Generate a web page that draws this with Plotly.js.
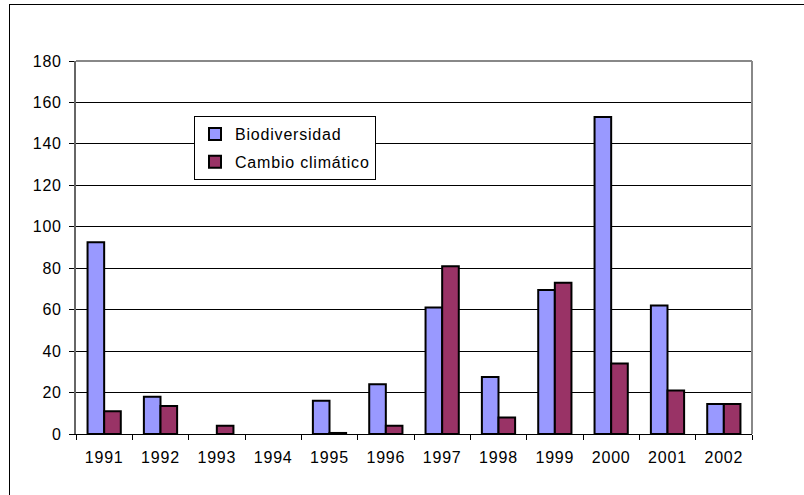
<!DOCTYPE html>
<html>
<head>
<meta charset="utf-8">
<script src="https://cdn.plot.ly/plotly-3.0.1.min.js"></script>
<style>
html,body{margin:0;padding:0;background:#fff;overflow:hidden;}
#wrap{position:relative;width:804px;height:495px;overflow:hidden;}
#chart{width:804px;height:495px;}
#frame{position:absolute;left:9px;top:4px;width:795px;height:491px;border-left:1px solid #000;border-top:1px solid #000;box-sizing:border-box;pointer-events:none;}
.xtick text, .ytick text, .legendtext {letter-spacing: 0.8px;}
</style>
</head>
<body>
<div id="wrap"><div id="chart"></div><div id="frame"></div></div>
<script>
const years = ["1991","1992","1993","1994","1995","1996","1997","1998","1999","2000","2001","2002"];
const biodiversidad = [92.5, 18, 0, 0, 16, 24, 61, 27.5, 69.5, 153, 62, 14.5];
const cambioClimatico = [11, 13.5, 4, 0, 0.5, 4, 81, 8, 73, 34, 21, 14.5];
const yTicks = [0, 20, 40, 60, 80, 100, 120, 140, 160, 180];

const W = 804, H = 495;
const L = 76, R = 752, T = 61, B = 434;
const pw = R - L, ph = B - T;
const px = v => (v - L) / pw;
const py = v => (B - v) / ph;

const font = {family: "Liberation Sans, Arial, sans-serif", size: 16, color: "#000"};
const lw = arr => arr.map(v => v > 0 ? 2 : 0);

const traces = [
  {type: "bar", name: "Biodiversidad", x: years, y: biodiversidad, legendgroup: "a",
   marker: {color: "#9999FF", line: {color: "#000", width: lw(biodiversidad)}}},
  {type: "bar", name: "Cambio climático", x: years, y: cambioClimatico, legendgroup: "b",
   marker: {color: "#993366", line: {color: "#000", width: lw(cambioClimatico)}}}
];

const layout = {
  width: W, height: H,
  margin: {l: L, r: W - R, t: T, b: H - B, pad: 0},
  paper_bgcolor: "#fff", plot_bgcolor: "#fff",
  font: font,
  barmode: "group", bargap: 0.41, bargroupgap: 0,
  showlegend: true,
  legend: {x: px(194), y: py(116), xanchor: "left", yanchor: "top",
    bgcolor: "#fff", bordercolor: "#000", borderwidth: 1,
    font: {family: font.family, size: 16, color: "#000"},
    itemwidth: 30, tracegroupgap: 4, traceorder: "grouped"},
  xaxis: {type: "category", showgrid: false, zeroline: false,
    showline: true, linecolor: "#000", linewidth: 1,
    ticks: "outside", tickson: "boundaries", ticklen: 5, tickcolor: "#000",
    ticklabelstandoff: 9, tickfont: font, fixedrange: true},
  yaxis: {range: [0, 180], tickvals: yTicks, ticktext: yTicks.map(String),
    showgrid: true, gridcolor: "#000", gridwidth: 1, zeroline: false,
    showline: true, linecolor: "#666", linewidth: 2,
    ticks: "outside", ticklen: 5, tickcolor: "#000",
    ticklabelstandoff: 4, tickfont: font, fixedrange: true},
  shapes: [
    {type: "line", xref: "paper", yref: "paper", x0: 0, x1: 1, y0: 1, y1: 1,
     line: {color: "#888", width: 2}},
    {type: "line", xref: "paper", yref: "paper", x0: 1, x1: 1, y0: 0, y1: 1,
     line: {color: "#888", width: 2}}
  ]
};

Plotly.newPlot("chart", traces, layout, {displayModeBar: false, staticPlot: true});
</script>
</body>
</html>
